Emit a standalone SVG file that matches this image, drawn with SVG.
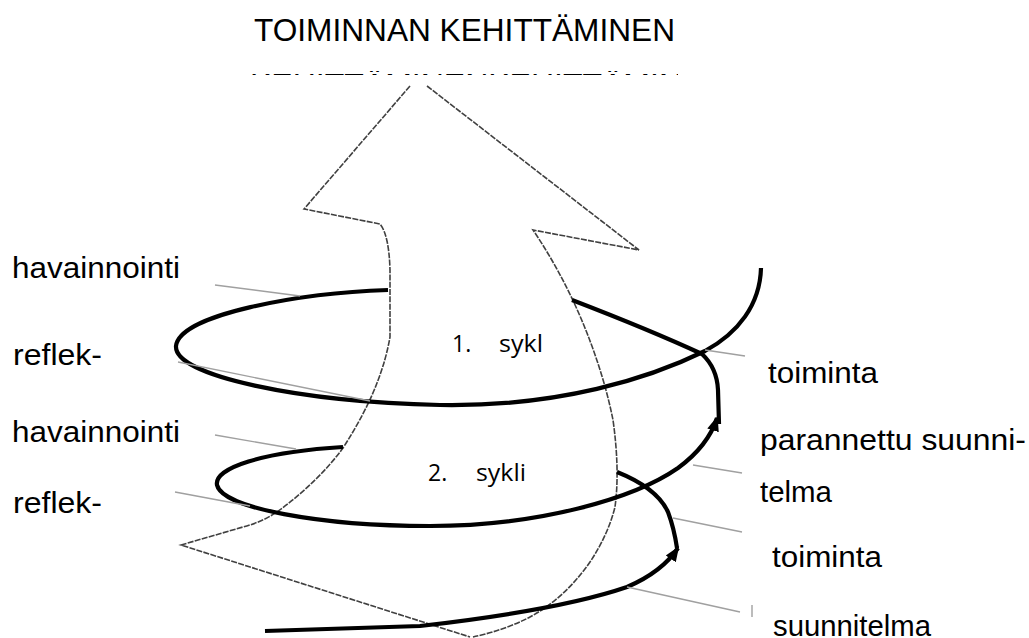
<svg xmlns="http://www.w3.org/2000/svg" width="1029" height="638" viewBox="0 0 1029 638">
<style>
.lbl{font-family:"Liberation Sans",Arial,sans-serif;font-size:30px;fill:#000}
.ttl{font-family:"Liberation Sans",Arial,sans-serif;font-size:32px;fill:#000}
.cyc{font-family:"Open Sans","Liberation Sans",sans-serif;font-size:23px;fill:#000}
.arr{fill:none;stroke:#404040;stroke-width:1.6;stroke-dasharray:6 1.3;stroke-linejoin:miter}
.sp{fill:none;stroke:#000;stroke-width:4.2;stroke-linecap:butt;stroke-linejoin:round}
.ld{fill:none;stroke:#a0a0a0;stroke-width:1.4}
</style>
<defs>
<clipPath id="cut"><rect x="240" y="71" width="438" height="4"/></clipPath>
<marker id="ah" markerUnits="userSpaceOnUse" markerWidth="18" markerHeight="14" refX="13" refY="7" orient="auto">
<path d="M0,1 L15,7 L0,13 Z" fill="#000"/>
</marker>
</defs>
<rect width="1029" height="638" fill="#fff"/>

<g id="title">
<text class="ttl" x="254" y="41" textLength="421" lengthAdjust="spacingAndGlyphs">TOIMINNAN KEHITTÄMINEN</text>
<text class="ttl" x="250" y="96" clip-path="url(#cut)">KEHITTÄMINENKEHITTÄMIN</text>
</g>

<g id="big-arrow">
<path class="arr" d="M410 86 L304 209 L380 224 Q389 235 390 270 L390 337 Q386 360 377 383 Q366 412 343 448 Q318 482 277 512 Q262 522 243 527 L181 545 L470 637"/>
<path class="arr" d="M427 86 L639 250 L533 230 Q560 270 580 316 Q603 370 613 420 Q620 470 615 507 Q608 535 590 562 Q565 598 530 617 Q505 630 473 637"/>
</g>

<g id="connectors">
<path class="sp" d="M388 290 C300 293 180 314 176 346 C174 376 300 402 440 405 C560 407 650 378 705 351 C738 333 760 305 761 268"/>
<path class="sp" d="M572 300 Q650 330 702 354 Q717 368 718 390 L719 424"/>
<path class="sp" d="M343 447 C262 452 214 468 217 485 C222 508 320 526 430 526 C540 526 635 498 678 468 Q708 446 717 418" marker-end="url(#ah)"/>
<path class="sp" d="M617 472 Q657 488 668 512 Q674 528 677 548"/>
<path class="sp" d="M265 631 L420 626 Q560 610 627 587 Q662 572 678 548" marker-end="url(#ah)"/>
</g>

<g id="leaders">
<path class="ld" d="M215 285 L300 296"/>
<path class="ld" d="M178 362 L370 401"/>
<path class="ld" d="M705 350 L745 356"/>
<path class="ld" d="M215 435 L296 449"/>
<path class="ld" d="M175 492 L250 506"/>
<path class="ld" d="M693 465 L742 473"/>
<path class="ld" d="M673 518 L742 532"/>
<path class="ld" d="M627 587 L740 612"/>
<path class="ld" d="M752 605 L752 617"/>
</g>

<g id="label-havainnointi-1"><text class="lbl" x="12" y="278" textLength="168" lengthAdjust="spacingAndGlyphs">havainnointi</text></g>
<g id="label-reflek-1"><text class="lbl" x="13" y="365" textLength="89" lengthAdjust="spacingAndGlyphs">reflek-</text></g>
<g id="label-havainnointi-2"><text class="lbl" x="12" y="442" textLength="168" lengthAdjust="spacingAndGlyphs">havainnointi</text></g>
<g id="label-reflek-2"><text class="lbl" x="13" y="513" textLength="89" lengthAdjust="spacingAndGlyphs">reflek-</text></g>
<g id="label-toiminta-1"><text class="lbl" x="768" y="383" textLength="110" lengthAdjust="spacingAndGlyphs">toiminta</text></g>
<g id="label-parannettu"><text class="lbl" x="760" y="450" textLength="266" lengthAdjust="spacingAndGlyphs">parannettu suunni-</text></g>
<g id="label-telma"><text class="lbl" x="760" y="502" textLength="72" lengthAdjust="spacingAndGlyphs">telma</text></g>
<g id="label-toiminta-2"><text class="lbl" x="772" y="567" textLength="110" lengthAdjust="spacingAndGlyphs">toiminta</text></g>
<g id="label-suunnitelma"><text class="lbl" x="773" y="636" textLength="158" lengthAdjust="spacingAndGlyphs">suunnitelma</text></g>

<g id="cycle-1"><text class="cyc" x="452" y="352">1.</text><text class="cyc" x="499" y="352" textLength="44" lengthAdjust="spacingAndGlyphs">sykl</text></g>
<g id="cycle-2"><text class="cyc" x="428" y="481">2.</text><text class="cyc" x="476" y="481" textLength="50" lengthAdjust="spacingAndGlyphs">sykli</text></g>
</svg>
